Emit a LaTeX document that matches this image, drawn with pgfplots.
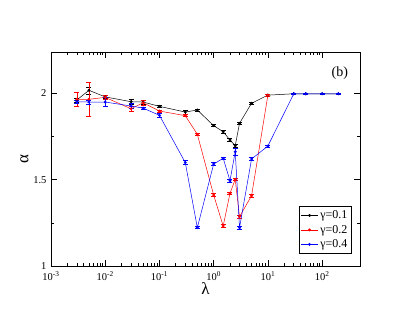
\documentclass[border=0pt]{standalone}
\usepackage{pgfplots}
\pgfplotsset{compat=1.18}
\usepackage{fontspec}
\setmainfont{Liberation Serif}
\begin{document}
\begin{tikzpicture}
\begin{axis}[
  scale only axis, width=309pt, height=214pt,
  xmode=log, xmin=0.001, xmax=500, ymin=1, ymax=2.24,
  xtick={0.001,0.01,0.1,1,10,100},
  xticklabels={10\textsuperscript{-3},10\textsuperscript{-2},10\textsuperscript{-1},10\textsuperscript{0},10\textsuperscript{1},10\textsuperscript{2}},
  ytick={1,1.5,2}, yticklabels={1,1.5,2},
  minor ytick={1.25,1.75},
  tick align=inside, major tick length=6pt, minor tick length=3pt,
  tick style={black, line width=0.6pt},
  ticklabel style={font=\fontsize{10.5}{12}\selectfont},
  xticklabel style={yshift=-2.5pt},
  yticklabel style={xshift=-1pt},
  xlabel={λ}, ylabel={α},
  xlabel style={font=\fontsize{17}{18}\selectfont, yshift=5pt},
  ylabel style={font=\fontsize{17}{18}\selectfont, yshift=-2pt},
  axis line style={line width=0.7pt},
  legend style={at={(rel axis cs:0.973,0.059)}, anchor=south east, font=\fontsize{12}{14}\selectfont, draw=black, line width=0.5pt, inner sep=2pt, row sep=1pt, cells={anchor=west}},
  legend cell align=left,
  every axis plot/.append style={line width=0.5pt, mark=*, mark size=1.2pt},
  error bars/y dir=both, error bars/y explicit,
  error bars/error mark options={rotate=90, mark size=2.5pt, line width=0.5pt},
  error bars/error bar style={line width=0.5pt},
]
\addplot[black, mark options={fill=black}] coordinates {
(0.003,1.962) +- (0,0.012)
(0.005,2.018) +- (0,0.02)
(0.01,1.98) +- (0,0.008)
(0.03,1.952) +- (0,0.012)
(0.05,1.95) +- (0,0.01)
(0.1,1.925) +- (0,0.008)
(0.3,1.892) +- (0,0.01)
(0.5,1.904) +- (0,0.005)
(1.0,1.813) +- (0,0.006)
(1.5,1.778) +- (0,0.01)
(2.0,1.73) +- (0,0.01)
(2.5,1.697) +- (0,0.01)
(3.0,1.827) +- (0,0.008)
(5.0,1.943) +- (0,0.005)
(10,1.99) +- (0,0.005)
(30,1.998) +- (0,0.004)
(50,1.998) +- (0,0.004)
(100,1.998) +- (0,0.004)
(200,1.998) +- (0,0.004)
};
\addlegendentry{γ=0.1}
\addplot[red, mark options={fill=red}] coordinates {
(0.003,1.966) +- (0,0.038)
(0.005,1.966) +- (0,0.1)
(0.01,1.977) +- (0,0.012)
(0.03,1.911) +- (0,0.012)
(0.05,1.946) +- (0,0.012)
(0.1,1.898) +- (0,0.006)
(0.3,1.871) +- (0,0.006)
(0.5,1.763) +- (0,0.006)
(1.0,1.411) +- (0,0.008)
(1.5,1.232) +- (0,0.008)
(2.0,1.421) +- (0,0.008)
(2.5,1.502) +- (0,0.008)
(3.0,1.286) +- (0,0.008)
(5.0,1.407) +- (0,0.008)
(10,1.99) +- (0,0.006)
};
\addlegendentry{γ=0.2}
\addplot[blue, mark options={fill=blue}] coordinates {
(0.003,1.952) +- (0,0.01)
(0.005,1.95) +- (0,0.012)
(0.01,1.95) +- (0,0.025)
(0.03,1.927) +- (0,0.015)
(0.05,1.915) +- (0,0.006)
(0.1,1.873) +- (0,0.01)
(0.3,1.599) +- (0,0.012)
(0.5,1.222) +- (0,0.006)
(1.0,1.591) +- (0,0.01)
(1.5,1.624) +- (0,0.008)
(2.0,1.494) +- (0,0.01)
(2.5,1.662) +- (0,0.02)
(3.0,1.222) +- (0,0.008)
(5.0,1.62) +- (0,0.01)
(10,1.695) +- (0,0.006)
(30,1.998) +- (0,0.004)
(50,1.998) +- (0,0.004)
(100,1.998) +- (0,0.004)
(200,1.998) +- (0,0.004)
};
\addlegendentry{γ=0.4}
\node[font=\fontsize{14}{16}\selectfont] at (rel axis cs:0.935,0.9) {(b)};
\end{axis}
\path[use as bounding box] (-51pt,-42pt) rectangle (348pt,266pt);
\end{tikzpicture}
\end{document}
